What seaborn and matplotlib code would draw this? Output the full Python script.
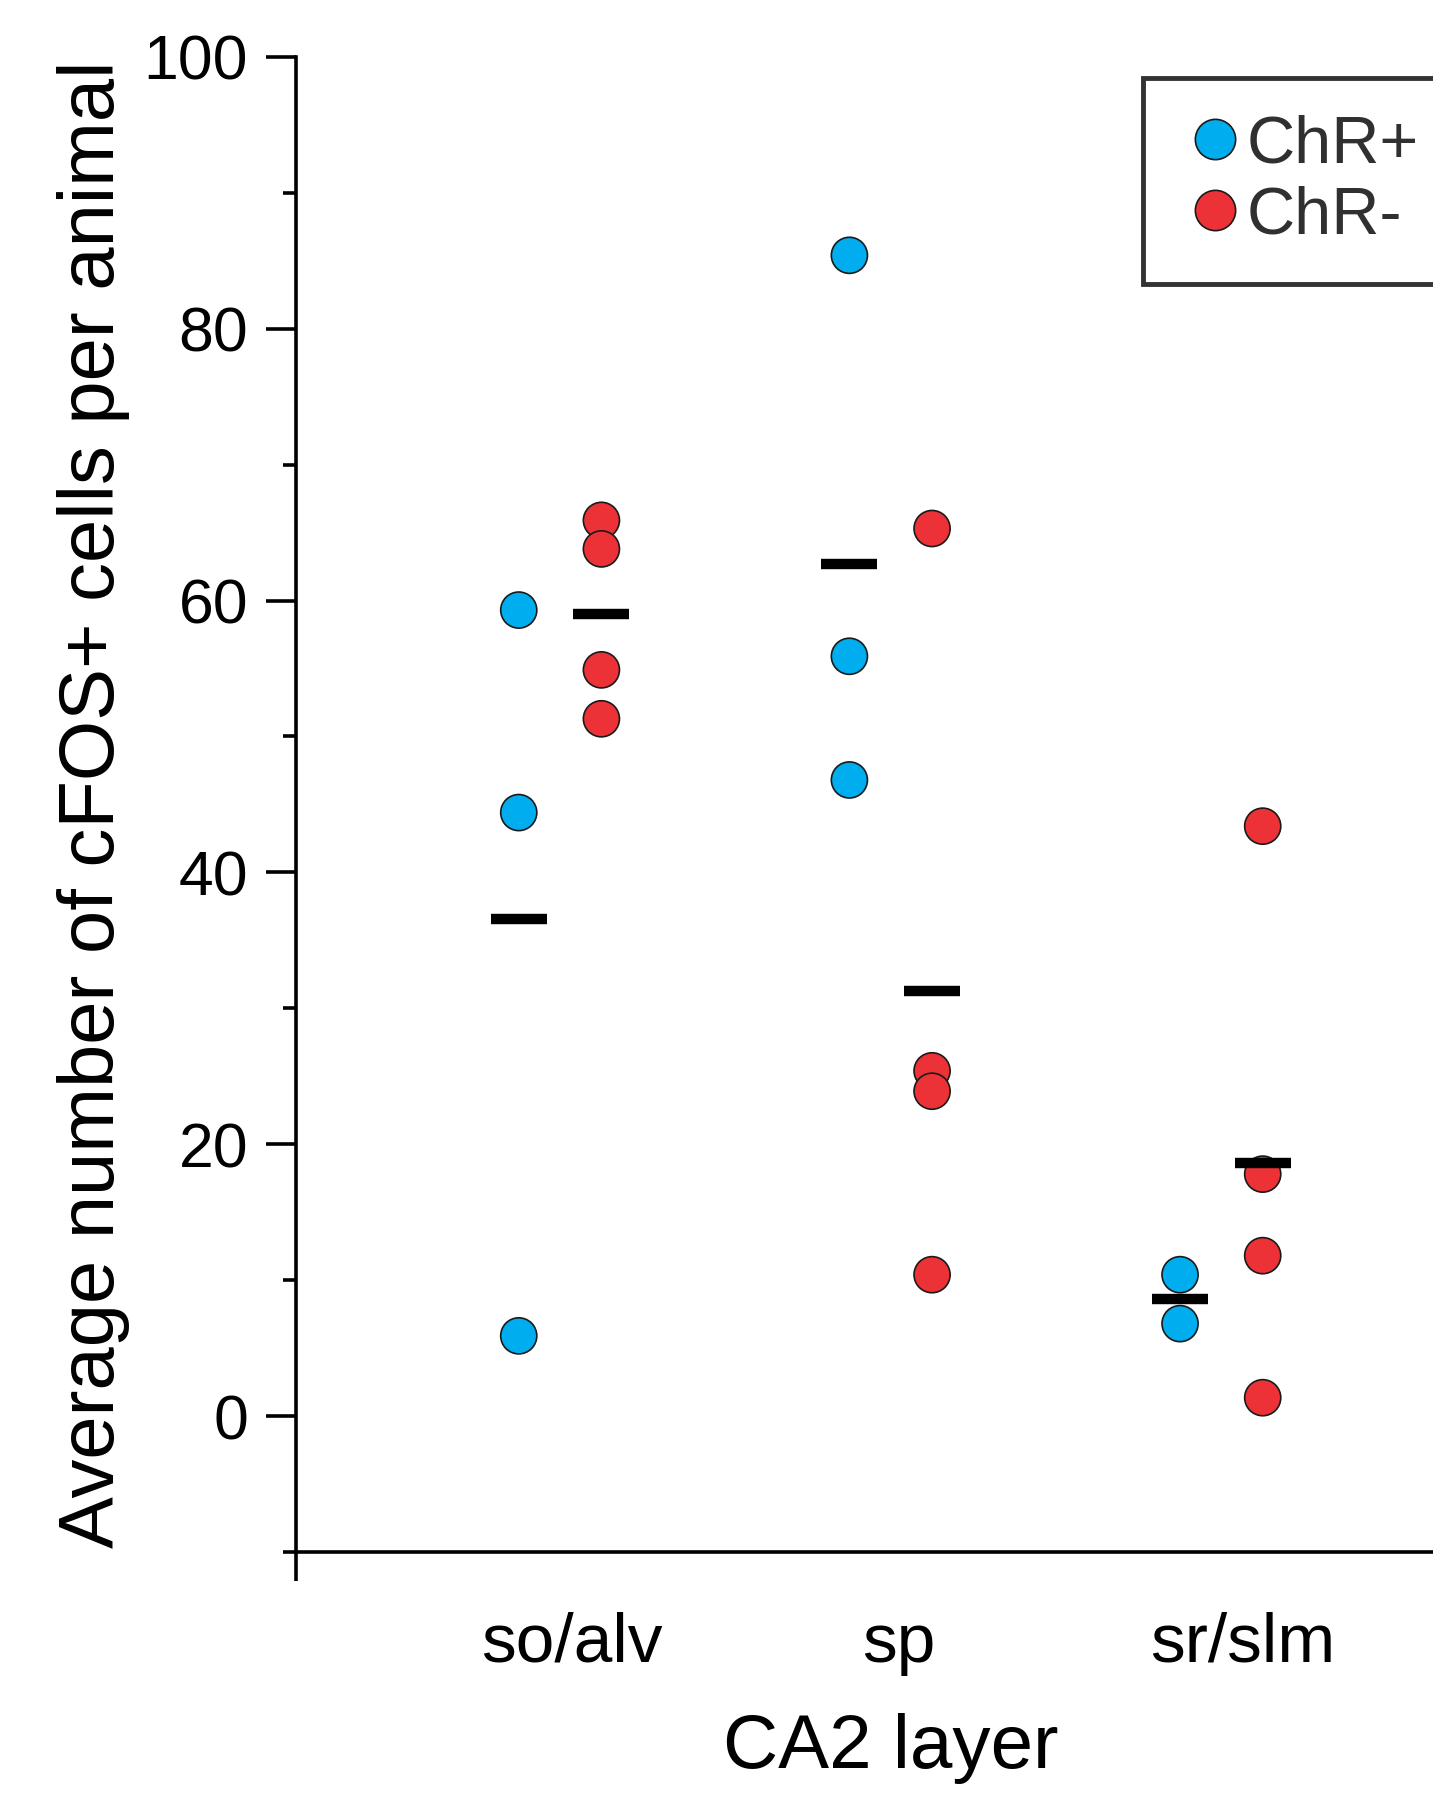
import numpy as np
import pandas as pd
import matplotlib
matplotlib.use("Agg")
import matplotlib.pyplot as plt
import seaborn as sns

# ---- data ----
layers = ["so/alv", "sp", "sr/slm"]
groups = ["ChR+", "ChR-"]
so_alv_pos = [59.3, 44.4, 5.9]
so_alv_neg = [65.9, 63.8, 54.9, 51.3]
sp_pos = [85.4, 55.9, 46.8]
sp_neg = [65.3, 25.4, 23.9, 10.4]
sr_slm_pos = [10.4, 6.8]
sr_slm_neg = [43.4, 17.8, 11.8, 1.35]
y_ticks = [0, 20, 40, 60, 80, 100]
y_minor = [-10, 10, 30, 50, 70, 90]
x_title = "CA2 layer"
y_title = "Average number of cFOS+ cells per animal"
colors = {"ChR+": "#00ADEE", "ChR-": "#EC3237"}

series = {
    ("so/alv", "ChR+"): so_alv_pos, ("so/alv", "ChR-"): so_alv_neg,
    ("sp", "ChR+"): sp_pos, ("sp", "ChR-"): sp_neg,
    ("sr/slm", "ChR+"): sr_slm_pos, ("sr/slm", "ChR-"): sr_slm_neg,
}
rows = []
for (layer, grp), vals in series.items():
    for v in vals:
        rows.append({"layer": layer, "group": grp, "slot": f"{layer} {grp}", "value": v})
df = pd.DataFrame(rows)

# categorical slots with empty spacer slots between layers
order = []
for i, layer in enumerate(layers):
    order += [f"{layer} {g}" for g in groups]
    if i < len(layers) - 1:
        order += [f"gap{i}a", f"gap{i}b"]

sns.set_theme(style="ticks")
plt.rcParams["font.family"] = ["Liberation Sans", "DejaVu Sans"]

fig = plt.figure(figsize=(14.33, 18), dpi=100)
ax = fig.add_axes([0.2066, 0.1378, 0.7934, 0.8306])

sns.stripplot(data=df, x="slot", y="value", hue="group", hue_order=groups,
              order=order, palette=colors, jitter=False, dodge=False,
              size=26, linewidth=1.2, edgecolor="#1a1a1a", ax=ax, zorder=3)
sns.pointplot(data=df, x="slot", y="value", order=order, estimator="mean",
              errorbar=None, color="black", marker="_", linestyle="none",
              markersize=41, markeredgewidth=7.5, ax=ax, zorder=4)
for c in ax.collections:
    c.set_zorder(3)
for l in ax.lines:
    l.set_zorder(5)

ax.set_xlim(-2.694, 11.06)
ax.set_ylim(-10, 100)

# tick labels under each layer pair
ax.set_xticks([0.64, 4.6, 8.76])
ax.set_xticklabels(layers)
ax.set_xticks([-2.694], minor=True)
ax.tick_params(axis="x", which="major", length=0, pad=43, labelsize=50, colors="black")
ax.tick_params(axis="x", which="minor", length=21, width=2.6, direction="out", color="black")

ax.set_yticks(y_ticks)
ax.set_yticks(y_minor, minor=True)
ax.tick_params(axis="y", which="major", length=21.6, width=2.6, pad=13, labelsize=45, colors="black")
ax.tick_params(axis="y", which="minor", length=9.5, width=2.6, color="black")

for s in ["top", "right"]:
    ax.spines[s].set_visible(False)
for s in ["left", "bottom"]:
    ax.spines[s].set_linewidth(2.6)
    ax.spines[s].set_color("black")

ax.set_xlabel(x_title, fontsize=55, color="black")
ax.set_ylabel(y_title, fontsize=56, color="black")
ax.xaxis.set_label_coords(0.523, -0.108)
ax.yaxis.set_label_coords(-0.146, 0.5)

handles, labels = ax.get_legend_handles_labels()
leg = ax.legend(handles[:2], labels[:2], loc="upper left", bbox_to_anchor=(0.745, 0.986),
                frameon=True, fancybox=False, edgecolor="#333333", framealpha=1,
                fontsize=48, handlelength=1.07, handletextpad=-0.07, borderpad=0.55,
                labelspacing=0.14, borderaxespad=0)
leg.get_frame().set_linewidth(3.5)
for t in leg.get_texts():
    t.set_color("#303030")
for h in leg.legend_handles:
    try:
        h.set_markersize(29)
        h.set_markeredgewidth(1.2)
    except Exception:
        try:
            h.set_sizes([29 ** 2])
        except Exception:
            pass

fig.savefig("out.png", dpi=100)
